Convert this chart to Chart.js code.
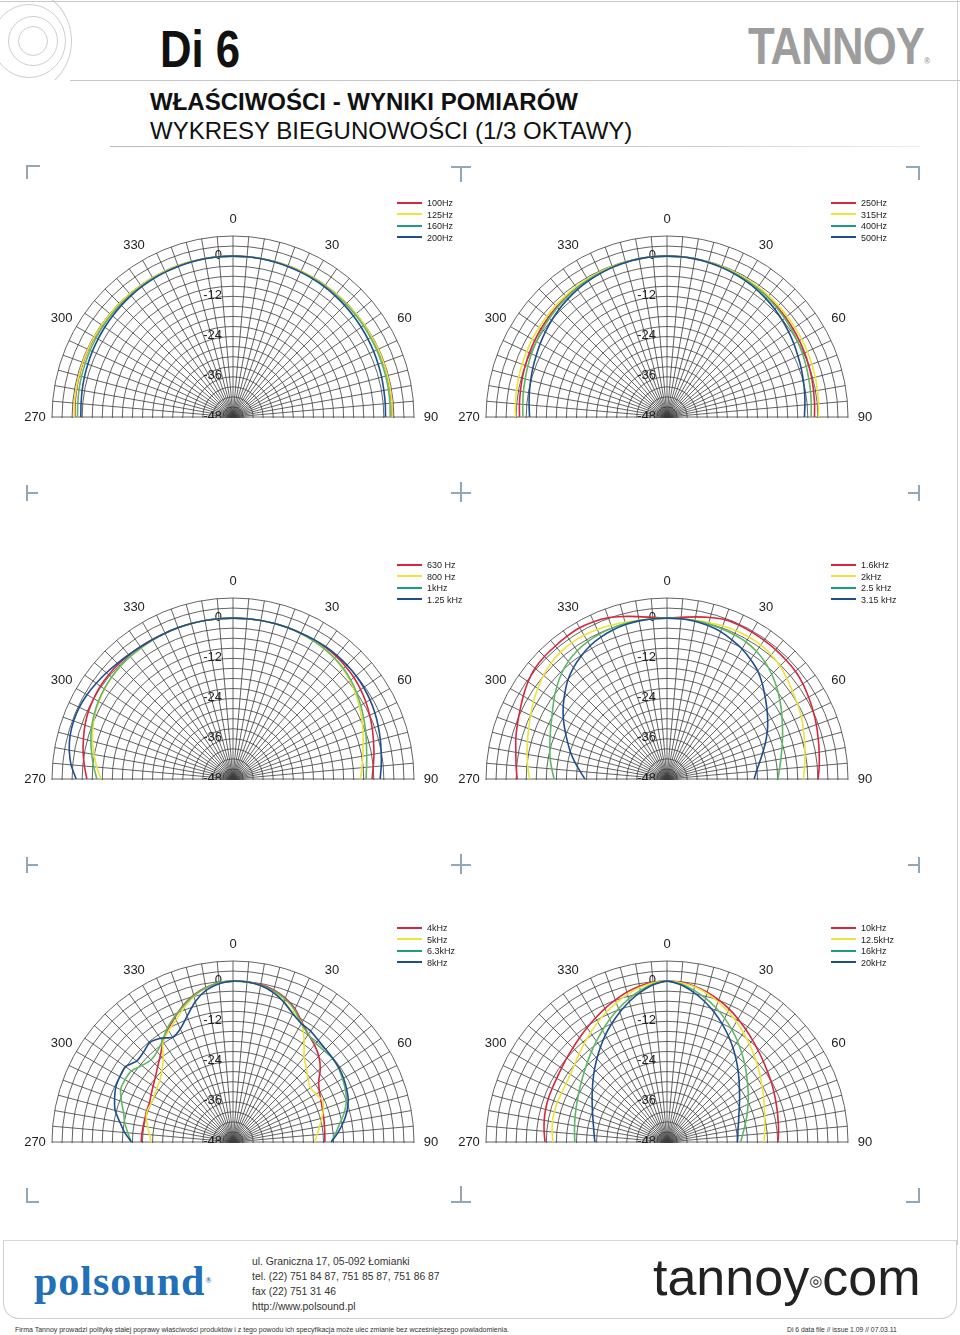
<!DOCTYPE html>
<html>
<head>
<meta charset="utf-8">
<script src="https://cdn.jsdelivr.net/npm/chart.js@4.4.1/dist/chart.umd.min.js"></script>
<style>
body { margin: 0; background: #fff; }
#page { position: relative; width: 960px; height: 1335px; overflow: hidden; font-family: "Liberation Sans", Arial, sans-serif; color: #111; }
.abs { position: absolute; }
.hl { position: absolute; height: 1px; background: #c8c8c8; }
.mark { position: absolute; background: #93a7b6; }
.wrap { position: absolute; width: 460px; height: 244px; overflow: hidden; }
.legend { position: absolute; font-size: 9px; line-height: 11.5px; color: #222; }
.legend div { white-space: nowrap; }
.legend span { display: inline-block; width: 25px; height: 2px; margin-right: 5px; vertical-align: middle; position: relative; top: -1px; }
.ring { position: absolute; border: 1px solid #cfcfcf; border-radius: 50%; }
.narrow { transform-origin: 0 0; white-space: nowrap; }
</style>
</head>
<body>
<div id="page">
  <!-- header -->
  <div class="abs" style="left:0;top:0;width:72px;height:80px;overflow:hidden;">
    <div class="ring" style="left:-30px;top:-12px;width:100px;height:104px;"></div>
    <div class="ring" style="left:-8px;top:4px;width:72px;height:72px;"></div>
    <div class="ring" style="left:8px;top:16px;width:48px;height:48px;"></div>
    <div class="ring" style="left:18px;top:26px;width:28px;height:28px;"></div>
  </div>
  <div class="hl" style="left:0;top:1px;width:960px;"></div>
  <div class="abs" style="left:957px;top:0;width:1px;height:1245px;background:#d0d0d0;"></div>
  <div class="hl" style="left:70px;top:80px;width:890px;"></div>
  <div class="abs narrow" style="left:160px;top:23px;font-weight:bold;font-size:52px;line-height:52px;transform:scaleX(0.84);">Di 6</div>
  <div class="abs narrow" style="left:748px;top:20px;font-weight:bold;font-size:52px;line-height:52px;color:#9d9d9d;letter-spacing:-1px;transform:scaleX(0.84);">TANNOY<span style="font-size:9px;letter-spacing:0;">®</span></div>
  <div class="abs" style="left:150px;top:90px;font-weight:bold;font-size:24px;line-height:24px;">WŁAŚCIWOŚCI - WYNIKI POMIARÓW</div>
  <div class="abs" style="left:150px;top:119px;font-size:24px;line-height:24px;">WYKRESY BIEGUNOWOŚCI (1/3 OKTAWY)</div>
  <div class="hl" style="left:110px;top:146px;width:810px;background:linear-gradient(90deg,#bbb,#ccc 70%,#eee);"></div>

  <div id="marks"></div>
  <div id="charts"></div>

  <!-- footer -->
  <div class="abs" style="left:3px;top:1240px;width:952px;height:77px;border:1px solid #cfcfcf;border-top-color:#d8d8d8;border-radius:0 0 16px 16px;"></div>
  <div class="abs" style="left:34px;top:1260px;font-family:'Liberation Serif','DejaVu Serif',serif;font-weight:bold;font-size:42px;line-height:42px;color:#2170b8;letter-spacing:1px;">polsound<span style="font-size:8px;vertical-align:top;">®</span></div>
  <div class="abs narrow" style="left:252px;top:1254px;font-size:11.5px;line-height:15px;color:#333;transform:scaleX(0.9);">
    ul. Graniczna 17, 05-092 Łomianki<br>tel. (22) 751 84 87, 751 85 87, 751 86 87<br>fax (22) 751 31 46<br>http://www.polsound.pl
  </div>
  <div class="abs" style="left:653px;top:1250px;font-size:52px;line-height:54px;color:#222;">tannoy<span style="font-size:15px;font-family:'DejaVu Sans';vertical-align:middle;">◎</span>com</div>
  <div class="abs" style="left:15px;top:1325px;font-size:7px;line-height:9px;color:#333;">Firma Tannoy prowadzi politykę stałej poprawy właściwości produktów i z tego powodu ich specyfikacja może ulec zmianie bez wcześniejszego powiadomienia.</div>
  <div class="abs" style="left:787px;top:1325px;font-size:6.8px;line-height:9px;color:#333;">Di 6 data file // issue 1.09 // 07.03.11</div>
</div>

<script>
// spokes every 5 degrees, curve points from 270 through 0 to 90
const spokes = [0,5,10,15,20,25,30,35,40,45,50,55,60,65,70,75,80,85,90,95,100,105,110,115,120,125,130,135,140,145,150,155,160,165,170,175,180,185,190,195,200,205,210,215,220,225,230,235,240,245,250,255,260,265,270,275,280,285,290,295,300,305,310,315,320,325,330,335,340,345,350,355];
const curveAngles = [270,275,280,285,290,295,300,305,310,315,320,325,330,335,340,345,350,355,0,5,10,15,20,25,30,35,40,45,50,55,60,65,70,75,80,85,90];
const angleTicks = ['270','300','330','0','30','60','90'];
const dbTicks = [0,-12,-24,-36,-48];

// dB values, 270 -> 0 -> 90
const f100 = [-0.8,-0.7,-0.6,-0.5,-0.4,-0.35,-0.3,-0.25,-0.2,-0.15,-0.1,-0.1,-0.05,0,0,0,0,0,0,0,0,0,0,0,-0.05,-0.05,-0.1,-0.1,-0.15,-0.2,-0.2,-0.25,-0.3,-0.35,-0.4,-0.5,-0.6];
const f125 = [-0.6,-0.5,-0.45,-0.4,-0.3,-0.25,-0.2,-0.2,-0.15,-0.1,-0.1,-0.05,0,0,0,0,0,0,0,0,0,0,0,0,0,-0.05,-0.05,-0.1,-0.1,-0.15,-0.2,-0.2,-0.25,-0.3,-0.35,-0.4,-0.5];
const f160 = [-1.6,-1.5,-1.35,-1.2,-1.1,-0.95,-0.85,-0.7,-0.6,-0.5,-0.4,-0.3,-0.2,-0.15,-0.1,-0.05,0,0,0,0,0,-0.05,-0.1,-0.15,-0.2,-0.25,-0.3,-0.35,-0.45,-0.5,-0.6,-0.7,-0.8,-0.85,-0.9,-1.0,-1.1];
const f200 = [-2.6,-2.5,-2.3,-2.1,-1.9,-1.7,-1.5,-1.3,-1.1,-0.9,-0.7,-0.55,-0.4,-0.3,-0.2,-0.1,-0.05,0,0,0,-0.05,-0.1,-0.2,-0.3,-0.4,-0.55,-0.7,-0.9,-1.1,-1.3,-1.5,-1.7,-1.9,-2.1,-2.3,-2.4,-2.5];

const f250 = [-4.0,-3.8,-3.6,-3.3,-3.0,-2.7,-2.4,-2.1,-1.8,-1.5,-1.2,-0.9,-0.7,-0.5,-0.3,-0.15,-0.05,0,0,0,-0.05,-0.15,-0.3,-0.5,-0.7,-0.9,-1.2,-1.5,-1.8,-2.1,-2.4,-2.7,-3.0,-3.3,-3.6,-3.8,-4.0];
const f315 = [-2.8,-2.6,-2.4,-2.2,-2.0,-1.8,-1.6,-1.4,-1.2,-1.0,-0.8,-0.6,-0.45,-0.3,-0.2,-0.1,0,0,0,0,0,-0.1,-0.2,-0.3,-0.45,-0.6,-0.8,-1.0,-1.2,-1.4,-1.6,-1.8,-2.0,-2.2,-2.4,-2.6,-2.8];
const f400 = [-5.0,-4.8,-4.5,-4.2,-3.8,-3.4,-3.0,-2.6,-2.2,-1.8,-1.4,-1.1,-0.8,-0.55,-0.35,-0.2,-0.1,0,0,0,-0.1,-0.2,-0.35,-0.55,-0.8,-1.1,-1.4,-1.8,-2.2,-2.6,-3.0,-3.4,-3.8,-4.2,-4.5,-4.8,-5.0];
const f500 = [-7.0,-6.7,-6.3,-5.9,-5.4,-4.9,-4.3,-3.7,-3.1,-2.5,-2.0,-1.5,-1.1,-0.8,-0.5,-0.25,-0.1,0,0,0,-0.1,-0.25,-0.5,-0.8,-1.1,-1.5,-2.0,-2.5,-3.1,-3.7,-4.3,-4.9,-5.4,-5.9,-6.3,-6.7,-7.0];

const f630 = [-4.4,-3.5,-2.6,-1.8,-1.0,-0.4,0,0.3,0.4,0.4,0.3,0.2,0.1,0,0,0,0,0,0,0,0,0,0,0,0,0,-0.2,-0.5,-0.9,-1.5,-2.2,-3.0,-3.8,-4.6,-5.3,-6.0,-6.5];
const f800 = [-8.6,-7.2,-5.9,-4.6,-3.5,-2.5,-1.8,-1.2,-0.8,-0.5,-0.3,-0.2,-0.1,0,0,0,0,0,0,0,0,0,0,-0.1,-0.3,-0.6,-1.0,-1.6,-2.4,-3.4,-4.5,-5.6,-6.7,-7.8,-8.7,-9.4,-10.0];
const f1k = [-7.4,-6.3,-5.2,-4.1,-3.1,-2.3,-1.6,-1.1,-0.7,-0.4,-0.3,-0.2,-0.1,0,0,0,0,0,0,0,0,0,0,-0.1,-0.3,-0.5,-0.9,-1.4,-2.1,-3.0,-4.0,-5.0,-5.9,-6.8,-7.5,-8.0,-8.3];
const f1k25 = [-1.2,0.5,1.6,2.3,2.6,2.6,2.3,1.8,1.3,0.8,0.4,0.1,0,0,0,0,0,0,0,0,0,0,0,0,0.1,0.2,0.2,0.1,-0.1,-0.4,-0.8,-1.3,-1.9,-2.5,-3.1,-3.6,-4.1];

const f1k6 = [-3.3,-2.8,-2.2,-1.3,-0.5,0.4,1.5,2.6,3.4,3.7,3.8,4.0,4.1,3.8,3.2,2.2,1.2,0.4,0,0.4,1.1,1.9,2.6,2.7,2.6,2.5,2.4,2.2,2.0,1.5,0.8,0.1,-0.6,-1.3,-1.9,-2.4,-2.9];
const f2k = [-7.0,-6.3,-5.6,-4.9,-4.1,-3.1,-2.0,-0.9,0.1,0.9,1.4,1.6,1.5,1.2,0.8,0.4,0.1,0,0,0,0.1,0.3,0.6,0.8,0.9,0.8,0.4,-0.3,-1.3,-2.3,-3.1,-3.8,-4.7,-5.5,-6.2,-6.8,-7.3];
const f2k5 = [-14.3,-13.5,-12.6,-11.8,-10.9,-9.8,-8.5,-6.8,-5.1,-3.5,-2.2,-1.3,-0.7,-0.3,-0.1,0,0,0,0,0,0,-0.1,-0.3,-0.5,-0.8,-1.5,-2.5,-3.8,-5.3,-6.9,-8.5,-10.0,-11.3,-12.5,-13.5,-14.3,-14.9];
const f3k15 = [-23.5,-22.0,-20.2,-18.3,-16.5,-14.5,-12.3,-10.2,-8.2,-6.2,-4.6,-3.3,-2.1,-1.3,-0.7,-0.3,-0.1,0,0,0,-0.2,-0.6,-1.2,-2.2,-3.2,-4.5,-5.9,-7.8,-9.8,-11.6,-13.3,-15.0,-16.8,-18.5,-20.0,-21.2,-22.0];

const f4k = [-20.6,-20.7,-20.8,-20.8,-20.6,-20.5,-19.8,-18.9,-17.8,-16.2,-14.3,-11.6,-9.3,-7.0,-4.6,-2.6,-1.2,-0.3,0,0,-0.3,-1.0,-2.3,-4.2,-6.8,-8.8,-10.2,-11.8,-14.0,-16.8,-18.2,-19.0,-19.6,-20.0,-20.3,-20.5,-20.6];
const f5k = [-23.6,-23.0,-22.2,-21.2,-20.8,-21.0,-20.8,-20.2,-19.5,-18.0,-15.6,-11.6,-9.6,-7.8,-5.4,-3.0,-1.3,-0.3,0,-0.1,-0.6,-1.6,-3.4,-5.4,-7.0,-11.0,-15.0,-17.0,-18.8,-19.8,-19.4,-18.6,-19.3,-20.6,-21.8,-22.8,-23.6];
const f6k3 = [-17.7,-16.5,-15.2,-14.2,-12.6,-11.0,-10.8,-11.0,-12.5,-13.4,-12.8,-11.2,-8.8,-6.8,-4.8,-2.8,-1.3,-0.3,0,-0.1,-0.5,-1.3,-2.6,-4.5,-7.2,-8.8,-9.6,-9.5,-9.2,-9.6,-10.3,-11.0,-12.0,-13.6,-15.6,-17.2,-18.7];
const f8k = [-17.7,-15.6,-13.7,-11.6,-10.4,-9.4,-9.0,-8.8,-10.5,-10.2,-9.3,-10.2,-11.9,-10.8,-8.0,-4.6,-2.0,-0.6,0,-0.1,-0.6,-1.8,-3.6,-5.8,-7.2,-7.6,-8.4,-8.9,-9.2,-9.4,-9.9,-10.6,-11.4,-12.8,-14.6,-16.6,-18.7];

const f10k = [-11.6,-11.2,-10.8,-10.5,-10.3,-10.2,-10.0,-9.6,-9.0,-8.3,-7.4,-6.4,-5.3,-4.1,-2.9,-1.7,-0.8,-0.2,0,-0.2,-0.8,-1.7,-2.9,-4.2,-5.6,-7.0,-8.3,-9.5,-10.5,-11.4,-12.1,-12.8,-13.4,-13.9,-14.3,-14.6,-14.9];
const f12k5 = [-14.0,-13.6,-13.3,-13.2,-13.2,-13.3,-13.2,-12.8,-12.0,-10.9,-9.6,-8.2,-6.7,-5.2,-3.8,-2.4,-1.2,-0.3,0,-0.3,-1.0,-2.1,-3.5,-5.0,-6.6,-8.2,-9.8,-11.3,-12.7,-14.0,-15.2,-16.2,-17.1,-17.8,-18.4,-18.8,-19.0];
const f16k = [-20.5,-20.3,-20.0,-19.6,-19.1,-18.5,-17.7,-16.8,-15.7,-14.4,-12.9,-11.3,-9.5,-7.6,-5.7,-3.8,-2.1,-0.7,0,-0.7,-2.0,-3.6,-5.4,-7.3,-9.3,-11.3,-13.3,-15.2,-17.0,-18.6,-20.0,-21.3,-22.5,-23.6,-24.6,-25.4,-26.0];
const f20k = [-26.5,-26.2,-25.8,-25.2,-24.4,-23.4,-22.2,-20.8,-19.2,-17.4,-15.5,-13.4,-11.2,-9.0,-6.8,-4.6,-2.6,-0.9,0,-0.9,-2.6,-4.6,-6.8,-9.1,-11.4,-13.7,-15.9,-18.0,-19.9,-21.6,-23.0,-24.2,-25.2,-25.9,-26.5,-26.8,-27.0];

const lineColors = ['#d5283f', '#ece43c', '#5fb768', '#1e4e8d'];
const legendColors = ['#d5283f', '#ece43c', '#1f9b82', '#1e4e8d'];

const plots = [
  { cx: 233, cy: 417, names: ['100Hz','125Hz','160Hz','200Hz'], series: [f100, f125, f160, f200] },
  { cx: 667, cy: 417, names: ['250Hz','315Hz','400Hz','500Hz'], series: [f250, f315, f400, f500] },
  { cx: 233, cy: 779, names: ['630 Hz','800 Hz','1kHz','1.25 kHz'], series: [f630, f800, f1k, f1k25] },
  { cx: 667, cy: 779, names: ['1.6kHz','2kHz','2.5 kHz','3.15 kHz'], series: [f1k6, f2k, f2k5, f3k15] },
  { cx: 233, cy: 1142, names: ['4kHz','5kHz','6.3kHz','8kHz'], series: [f4k, f5k, f6k3, f8k] },
  { cx: 667, cy: 1142, names: ['10kHz','12.5kHz','16kHz','20kHz'], series: [f10k, f12k5, f16k, f20k] }
];

function toSpokes(values) {
  const out = spokes.map(() => null);
  curveAngles.forEach((a, i) => { out[spokes.indexOf(a)] = values[i]; });
  return out;
}

const polarDecor = {
  id: 'polarDecor',
  beforeDatasetsDraw(chart) {
    const s = chart.scales.r, ctx = chart.ctx;
    ctx.save();
    ctx.font = '13px "Liberation Sans", Arial, sans-serif';
    ctx.fillStyle = '#222';
    ctx.textAlign = 'right';
    ctx.textBaseline = 'middle';
    dbTicks.forEach(v => {
      ctx.fillText(String(v), s.xCenter - 11, s.yCenter - s.getDistanceFromCenterForValue(v) - 1);
    });
    ctx.restore();
  },
  afterDatasetsDraw(chart) {
    const s = chart.scales.r;
    chart.ctx.clearRect(0, s.yCenter + 1, chart.width, chart.height);
  },
  afterDraw(chart) {
    const s = chart.scales.r, ctx = chart.ctx;
    ctx.save();
    ctx.font = '13px "Liberation Sans", Arial, sans-serif';
    ctx.fillStyle = '#222';
    ctx.textAlign = 'center';
    ctx.textBaseline = 'middle';
    angleTicks.forEach(t => {
      const p = s.getPointPosition(spokes.indexOf(Number(t)), s.drawingArea + 17);
      ctx.fillText(t, p.x, p.y);
    });
    ctx.restore();
  }
};

// crop marks
const marks = document.getElementById('marks');
function bar(x, y, w, h) {
  const d = document.createElement('div');
  d.className = 'mark';
  d.style.cssText = `left:${x}px;top:${y}px;width:${w}px;height:${h}px;`;
  marks.appendChild(d);
}
bar(26,165,14,2); bar(26,165,2,14);
bar(451,166,20,2); bar(460,166,2,16);
bar(906,166,14,2); bar(918,166,2,14);
[493, 865].forEach(y => {
  bar(26,y-8,2,16); bar(26,y-1,12,2);
  bar(451,y-1,20,2); bar(460,y-11,2,20);
  bar(918,y-8,2,16); bar(908,y-1,12,2);
});
bar(26,1188,2,14); bar(26,1201,13,2);
bar(460,1186,2,16); bar(451,1201,20,2);
bar(918,1188,2,14); bar(906,1201,14,2);

const holder = document.getElementById('charts');
plots.forEach(p => {
  const wrap = document.createElement('div');
  wrap.className = 'wrap';
  wrap.style.left = (p.cx - 230) + 'px';
  wrap.style.top = (p.cy - 230) + 'px';
  const cv = document.createElement('canvas');
  cv.width = 460; cv.height = 460;
  wrap.appendChild(cv);
  holder.appendChild(wrap);

  const lg = document.createElement('div');
  lg.className = 'legend';
  lg.style.left = (p.cx + 164) + 'px';
  lg.style.top = (p.cy - 219) + 'px';
  lg.innerHTML = p.names.map((n, i) => `<div><span style="background:${legendColors[i]}"></span>${n}</div>`).join('');
  holder.appendChild(lg);

  new Chart(cv.getContext('2d'), {
    type: 'radar',
    data: {
      labels: spokes,
      datasets: p.series.map((vals, i) => ({
        label: p.names[i],
        data: toSpokes(vals),
        borderColor: lineColors[i],
        borderWidth: 1.6,
        fill: false,
        pointRadius: 0,
        tension: 0.2,
        order: 3 - i
      }))
    },
    options: {
      responsive: false,
      animation: false,
      layout: { padding: 49 },
      plugins: { legend: { display: false }, tooltip: { enabled: false } },
      scales: {
        r: {
          min: -48, max: 6,
          ticks: { stepSize: 3, display: false },
          grid: { color: '#3c3c3c', lineWidth: 0.8, circular: true },
          angleLines: { color: '#3c3c3c', lineWidth: 0.8 },
          pointLabels: { display: false }
        }
      }
    },
    plugins: [polarDecor]
  });
});
</script>
</body>
</html>
